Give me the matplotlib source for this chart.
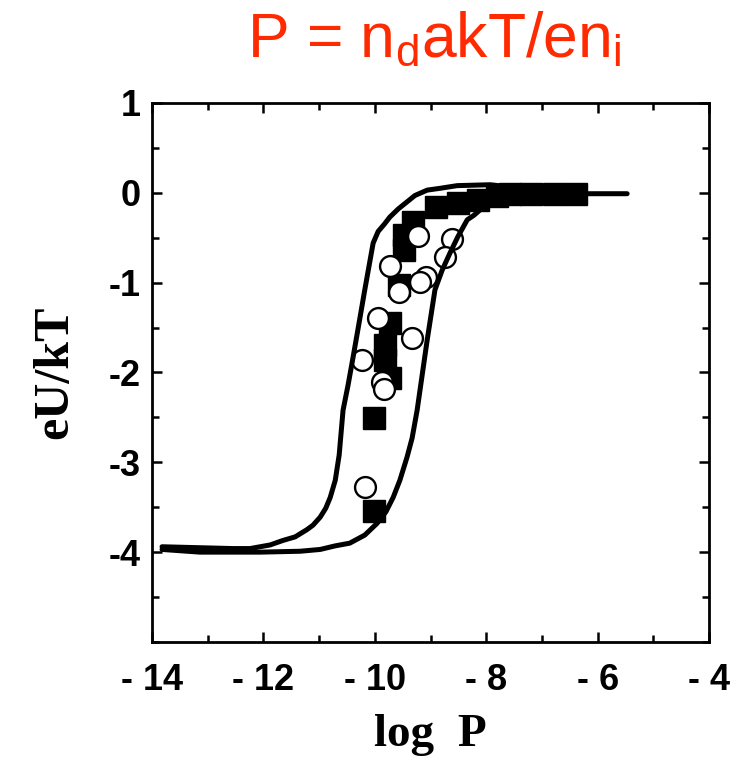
import matplotlib

matplotlib.use("Agg")
import matplotlib.pyplot as plt
from matplotlib.ticker import FixedLocator, FixedFormatter, MultipleLocator

plt.rcParams["font.family"] = ["Liberation Sans", "DejaVu Sans"]
plt.rcParams["mathtext.fontset"] = "custom"
plt.rcParams["mathtext.rm"] = "Liberation Sans"
plt.rcParams["mathtext.it"] = "Liberation Sans"

# model curves
LEFT_X = [-13.82, -12.55, -12.24, -11.88, -11.65, -11.43, -11.22, -11.11, -10.98,
          -10.88, -10.80, -10.71, -10.64, -10.57, -10.48, -10.39, -10.28, -10.18,
          -10.03, -9.94, -9.83, -9.73, -9.58, -9.42, -9.28, -9.06, -8.83, -8.52,
          -7.93, -7.03]
LEFT_Y = [-3.94, -3.96, -3.96, -3.92, -3.87, -3.83, -3.75, -3.70, -3.61,
          -3.51, -3.39, -3.20, -2.92, -2.42, -2.14, -1.83, -1.44, -1.08,
          -0.56, -0.43, -0.35, -0.27, -0.18, -0.10, -0.03, 0.03, 0.05, 0.08,
          0.09, 0.03]
RIGHT_X = [-13.82, -13.14, -12.55, -12.06, -11.34, -10.98, -10.71, -10.45, -10.18,
           -9.96, -9.80, -9.67, -9.55, -9.42, -9.33, -9.24, -9.15, -9.06, -8.99,
           -8.92, -8.79, -8.65, -8.51, -8.34, -8.22, -8.11, -7.93, -7.75, -7.39,
           -7.03, -6.14, -5.47]
RIGHT_Y = [-3.97, -4.00, -4.00, -4.00, -3.99, -3.97, -3.93, -3.90, -3.81,
           -3.68, -3.55, -3.39, -3.20, -2.94, -2.73, -2.42, -2.03, -1.64, -1.36,
           -1.08, -0.86, -0.67, -0.49, -0.30, -0.25, -0.19, -0.13, -0.08, -0.04,
           -0.02, -0.01, -0.01]

# measured points, filled squares
SQ_X = [-10.01, -10.01, -9.73, -9.82, -9.82, -9.73, -9.57, -9.48, -9.48, -9.31,
        -8.90, -8.51, -8.15, -7.80, -7.57, -7.20, -6.78, -6.39]
SQ_Y = [-3.54, -2.51, -2.06, -1.86, -1.69, -1.45, -1.03, -0.64, -0.47, -0.32,
        -0.16, -0.11, -0.08, -0.04, -0.01, -0.01, -0.01, -0.01]

# measured points, open circles
CI_X = [-9.22, -8.61, -8.74, -9.73, -9.08, -9.19, -9.57, -9.94, -9.33, -10.23,
        -9.87, -9.83, -10.18]
CI_Y = [-0.48, -0.51, -0.71, -0.82, -0.94, -0.99, -1.10, -1.39, -1.62, -1.86,
        -2.11, -2.18, -3.28]

X_TICKS = [-14, -12, -10, -8, -6, -4]
X_LABELS = ["- 14", "- 12", "- 10", "- 8", "- 6", "- 4"]
Y_TICKS = [1, 0, -1, -2, -3, -4]
Y_LABELS = ["1", "0", "-1", "-2", "-3", "-4"]

fig = plt.figure(figsize=(7.39, 7.79), dpi=100)
ax = fig.add_axes([0.2057, 0.1759, 0.7537, 0.6919])

ax.plot(SQ_X, SQ_Y, "s", color="black", markersize=16.5, zorder=2)
ax.plot(CI_X, CI_Y, "o", markerfacecolor="white", markeredgecolor="black",
        markersize=15, markeredgewidth=1.7, zorder=3)
for xs, ys in ((LEFT_X, LEFT_Y), (RIGHT_X, RIGHT_Y)):
    ax.plot(xs, ys, color="black", lw=3.6, solid_capstyle="round",
            solid_joinstyle="round", zorder=4)

ax.set_xlim(-14, -4)
ax.set_ylim(-5, 1)

ax.xaxis.set_major_locator(FixedLocator(X_TICKS))
ax.xaxis.set_major_formatter(FixedFormatter(X_LABELS))
ax.xaxis.set_minor_locator(MultipleLocator(1))
ax.yaxis.set_major_locator(FixedLocator(Y_TICKS))
ax.yaxis.set_major_formatter(FixedFormatter(Y_LABELS))
ax.yaxis.set_minor_locator(MultipleLocator(0.5))

for s in ax.spines.values():
    s.set_linewidth(2.0)
ax.tick_params(which="both", direction="in", top=True, right=True, width=1.8)
ax.tick_params(which="major", length=7)
ax.tick_params(which="minor", length=5)
ax.tick_params(axis="x", which="major", pad=15)
ax.tick_params(axis="y", which="major", pad=8)
for lab in ax.get_xticklabels() + ax.get_yticklabels():
    lab.set_fontsize(26)
    lab.set_fontweight("bold")

ax.set_xlabel("log  P", fontsize=34, fontweight="bold", family="Liberation Serif", labelpad=12)
ax.set_ylabel("eU/kT", fontsize=36, fontweight="bold", family="Liberation Serif", labelpad=22)

fig.text(0.334, 0.927, r"P = n$_\mathregular{d}$akT/en$_\mathregular{i}$", fontsize=45,
         color="#ff2a00", family="Liberation Sans", ha="left", va="baseline")

fig.savefig("out.png", dpi=100)
